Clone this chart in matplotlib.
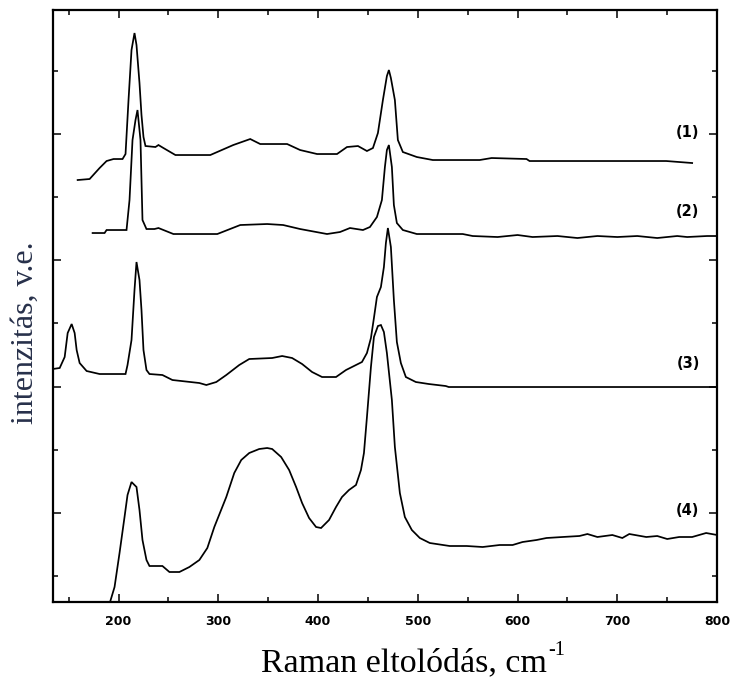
import matplotlib
matplotlib.use("Agg")
import matplotlib.pyplot as plt
from matplotlib.ticker import FixedLocator, MultipleLocator
import numpy as np

# ---- data (Raman shift in cm^-1, intensity in arbitrary units) ----
x1 = [159, 171, 181, 188, 195, 204, 207, 210, 213, 216, 218, 221, 223, 225, 227, 237, 240, 245, 257,
      292, 315, 332, 342, 369, 382, 399, 419, 429, 440, 449, 455, 460, 465, 469, 471, 473, 477, 480,
      485, 499, 515, 562, 574, 609, 612, 749, 762, 775]
y1 = [422, 423, 434, 441, 443, 443, 448, 502, 552, 569, 557, 519, 487, 465, 456, 455, 457, 454, 447,
      447, 457, 463, 458, 458, 452, 448, 448, 455, 456, 451, 454, 469, 502, 526, 532, 524, 502, 462,
      450, 445, 442, 442, 444, 443, 441, 441, 440, 439]

x2 = [174, 186, 188, 208, 211, 214, 217, 219, 222, 224, 228, 236, 240, 245, 255, 299, 322, 349, 365,
      382, 409, 422, 432, 445, 452, 459, 464, 467, 469, 471, 474, 476, 479, 485, 499, 545, 555, 580,
      600, 615, 640, 660, 680, 700, 720, 740, 760, 770, 790, 800]
y2 = [369, 369, 372, 372, 402, 462, 482, 492, 462, 382, 373, 373, 374, 372, 368, 368, 377, 378, 377,
      373, 368, 370, 374, 372, 375, 385, 402, 435, 452, 457, 435, 397, 379, 372, 368, 368, 366, 365,
      367, 365, 366, 364, 366, 365, 366, 364, 366, 365, 366, 366]

x3 = [134, 141, 146, 149, 153, 156, 158, 161, 168, 181, 207, 209, 213, 216, 218, 221, 223, 225, 228,
      231, 244, 254, 281, 288, 298, 308, 321, 331, 354, 364, 374, 384, 394, 404, 418, 428, 438, 444,
      449, 453, 456, 459, 463, 466, 468, 470, 473, 476, 479, 483, 488, 498, 511, 528, 531, 800]
y3 = [233, 234, 245, 269, 278, 269, 252, 239, 231, 228, 228, 237, 262, 312, 340, 322, 292, 252, 232,
      228, 227, 222, 219, 217, 220, 227, 237, 243, 244, 246, 244, 238, 230, 225, 225, 232, 237, 240,
      249, 264, 284, 305, 315, 335, 359, 374, 355, 302, 260, 239, 225, 220, 218, 216, 215, 215]

x4 = [190, 196, 201, 206, 209, 213, 218, 221, 224, 228, 231, 244, 251, 261, 271, 281, 289, 296, 308,
      316, 323, 331, 341, 349, 354, 363, 371, 378, 384, 391, 398, 403, 411, 418, 424, 431, 438, 443,
      446, 449, 453, 456, 460, 463, 466, 469, 474, 477, 482, 487, 494, 502, 512, 532, 549, 565, 582,
      595, 605, 619, 629, 645, 662, 670, 680, 695, 705, 712, 729, 740, 750, 762, 775, 789, 800]
y4 = [-5, 15, 49, 85, 107, 120, 115, 92, 62, 42, 36, 36, 30, 30, 35, 42, 54, 75, 105,
      129, 142, 149, 153, 154, 153, 145, 132, 115, 99, 84, 75, 74, 82, 95, 105, 112, 117, 132,
      149, 185, 235, 265, 276, 277, 270, 249, 202, 155, 109, 85, 72, 64, 59, 56, 56, 55, 57,
      57, 60, 62, 64, 65, 66, 68, 65, 67, 64, 68, 65, 66, 63, 65, 65, 69, 67]

series = [(x1, y1), (x2, y2), (x3, y3), (x4, y4)]
labels = ["(1)", "(2)", "(3)", "(4)"]
label_x = [770, 770, 771, 770]
label_y = [470, 391, 239, 92]

xticks_major = [200, 300, 400, 500, 600, 700, 800]
xtick_labels = ["200", "300", "400", "500", "600", "700", "800"]

# ---- figure ----
fig = plt.figure(figsize=(7.33, 6.82), dpi=100)
ax = fig.add_axes([0.0719, 0.1173, 0.9064, 0.868])

for xs, ys in series:
    ax.plot(xs, ys, color="black", lw=1.25, solid_joinstyle="miter")

for lab, lx, ly in zip(labels, label_x, label_y):
    ax.text(lx, ly, lab, ha="center", va="center", fontsize=10.5,
            fontweight="bold", family="DejaVu Sans", color="black")

ax.set_xlim(134, 800)
ax.set_ylim(0, 592)

ax.xaxis.set_major_locator(FixedLocator(xticks_major))
ax.set_xticklabels(xtick_labels)
ax.xaxis.set_minor_locator(MultipleLocator(50))
step = 126.3
ax.yaxis.set_major_locator(FixedLocator(list(np.arange(89, 592, step))))
ax.yaxis.set_minor_locator(FixedLocator(list(np.arange(26, 592, step))))
ax.set_yticklabels([])

ax.tick_params(which="both", direction="in", top=True, right=True, width=1.1, color="black")
ax.tick_params(which="major", length=6)
ax.tick_params(which="minor", length=3.8)
ax.tick_params(axis="x", which="major", pad=9, labelsize=9)
for t in ax.get_xticklabels():
    t.set_fontweight("heavy")
    t.set_family("DejaVu Sans")

for s in ax.spines.values():
    s.set_linewidth(1.6)
    s.set_color("black")

# x label with a small serif superscript
main = fig.text(0.5515, 0.016, "Raman eltolódás, cm", ha="center", va="baseline",
                fontsize=24.5, family="Liberation Serif", color="black")
fig.canvas.draw()
bb = main.get_window_extent(renderer=fig.canvas.get_renderer())
fig.text((bb.x1 + 1) / fig.bbox.width, 0.016 + 16 / fig.bbox.height, "-1",
         ha="left", va="baseline", fontsize=14.5, family="Liberation Serif", color="black")

fig.text(0.034, 0.5117, "intenzitás, v.e.", ha="center", va="center", rotation=90,
         fontsize=23, family="Liberation Serif", color="#27304a")

fig.savefig("out.png", dpi=100)
